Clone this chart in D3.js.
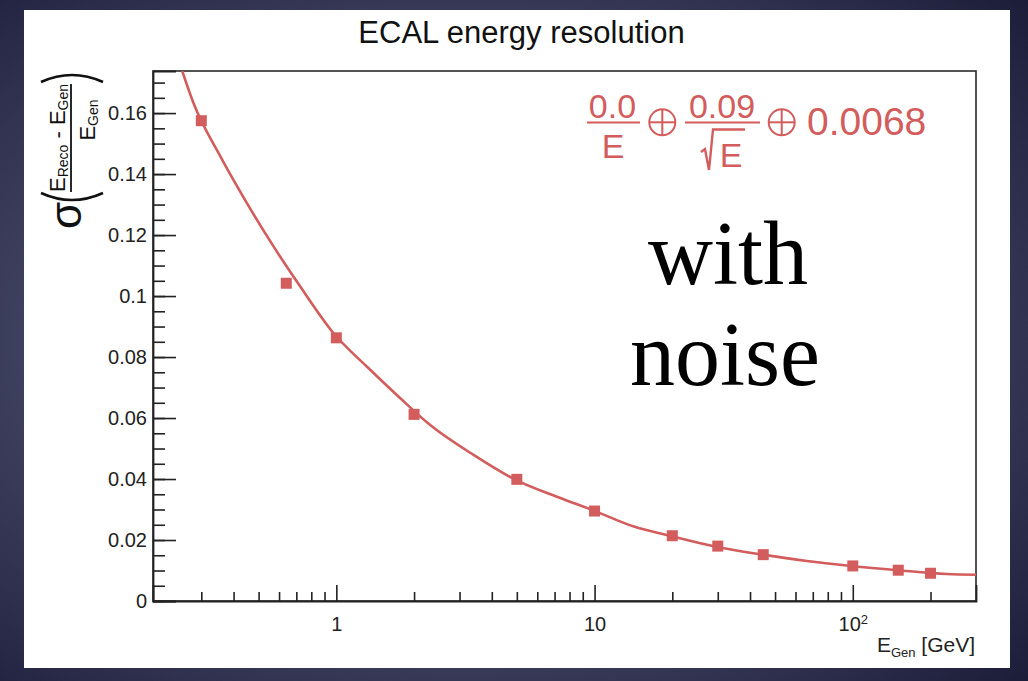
<!DOCTYPE html>
<html><head><meta charset="utf-8">
<script src="https://cdn.jsdelivr.net/npm/d3@7"></script>
<style>html,body{margin:0;padding:0;background:#1e1f3b;overflow:hidden} svg{display:block}</style>
</head><body><svg id="c" width="1028" height="681"></svg>
<script>
// ---- data ----
const energies   = [0.3, 0.64, 1, 2, 5, 10, 20, 30, 45, 100, 150, 200];
const resolution = [0.1575, 0.1042, 0.0863, 0.0612, 0.0399, 0.0295, 0.0214, 0.0180, 0.0152, 0.0115, 0.0101, 0.0091];
const fitEnergies   = [0.253, 0.28, 0.356, 0.451, 0.572, 0.725, 0.976, 1.315, 1.769, 2.31, 3.40, 4.9, 7.15, 9.84, 14.2, 19.6, 29.6, 44.7, 66.4, 98.5, 149.5, 231, 300];
const fitResolution = [0.1738, 0.1632, 0.1457, 0.1304, 0.1162, 0.1031, 0.0878, 0.0768, 0.0665, 0.0577, 0.0479, 0.0399, 0.0342, 0.0298, 0.0244, 0.0214, 0.0178, 0.0152, 0.0131, 0.0115, 0.0101, 0.00885, 0.0086];
const yMajorTicks = [0, 0.02, 0.04, 0.06, 0.08, 0.1, 0.12, 0.14, 0.16];
const yTickLabels = ["0", "0.02", "0.04", "0.06", "0.08", "0.1", "0.12", "0.14", "0.16"];
const yMinorTicks = d3.range(0, 0.1701, 0.005);
const xMajorTicks = [1, 10, 100];
const xTickLabels = ["1", "10", "10"];
const xMinorTicks = [0.3,0.4,0.5,0.6,0.7,0.8,0.9, 2,3,4,5,6,7,8,9, 20,30,40,50,60,70,80,90, 200];
const xDomain = [0.195, 300];
const yDomain = [0, 0.1738];

const titleText = "ECAL energy resolution";
const red = "#d35c5c";

const svg = d3.select("#c");
const W = 1028, H = 681;

// background
const defs = svg.append("defs");
const rg = defs.append("radialGradient").attr("id","bg").attr("cx","45%").attr("cy","50%").attr("r","75%");
rg.append("stop").attr("offset","0%").attr("stop-color","#6b7090");
rg.append("stop").attr("offset","100%").attr("stop-color","#1b1c38");
svg.append("rect").attr("width",W).attr("height",H).attr("fill","url(#bg)");
svg.append("rect").attr("x",24).attr("y",10).attr("width",986).attr("height",658).attr("fill","#ffffff");

const m = {l:153, r:976, t:71, b:601};
const x = d3.scaleLog().domain(xDomain).range([m.l, m.r]);
const y = d3.scaleLinear().domain(yDomain).range([m.b, m.t]);

defs.append("clipPath").attr("id","clip").append("rect")
  .attr("x",m.l).attr("y",m.t).attr("width",m.r-m.l).attr("height",m.b-m.t);

const font = "Liberation Sans, Arial, sans-serif";

// title
svg.append("text").attr("x",521.5).attr("y",43).attr("text-anchor","middle")
  .attr("font-family",font).attr("font-size",31).attr("fill","#111")
  .text(titleText);

// frame
svg.append("rect").attr("x",m.l).attr("y",m.t).attr("width",m.r-m.l).attr("height",m.b-m.t)
  .attr("fill","none").attr("stroke","#2a2a2a").attr("stroke-width",1.6);

// y axis
const yAxisMajor = d3.axisLeft(y).tickValues(yMajorTicks).tickSize(-23).tickPadding(6)
  .tickFormat((d,i)=>yTickLabels[i]);
const yg = svg.append("g").attr("transform",`translate(${m.l},0)`).call(yAxisMajor);
svg.append("g").attr("transform",`translate(${m.l},0)`)
  .call(d3.axisLeft(y).tickValues(yMinorTicks).tickSize(-12).tickFormat(""))
  .call(g=>g.select(".domain").remove());
// x axis
const xAxisMajor = d3.axisBottom(x).tickValues(xMajorTicks).tickSize(-16).tickPadding(16)
  .tickFormat((d,i)=>xTickLabels[i]);
const xg = svg.append("g").attr("transform",`translate(0,${m.b})`).call(xAxisMajor);
svg.append("g").attr("transform",`translate(0,${m.b})`)
  .call(d3.axisBottom(x).tickValues(xMinorTicks).tickSize(-9).tickFormat(""))
  .call(g=>g.select(".domain").remove());
xg.selectAll("text").filter(d=>d===100).append("tspan").attr("dy","-0.55em").attr("font-size",13).text("2");

svg.selectAll(".tick line").attr("stroke","#222").attr("stroke-width",1.6);
svg.selectAll(".domain").attr("stroke","#222").attr("stroke-width",1.8);
svg.selectAll(".tick text").attr("font-family",font).attr("font-size",20).attr("fill","#222");

// x label
const xl = svg.append("text").attr("x",975).attr("y",652).attr("text-anchor","end")
  .attr("font-family",font).attr("font-size",21).attr("fill","#222");
xl.append("tspan").text("E");
xl.append("tspan").attr("font-size",13).attr("dy",5).text("Gen");
xl.append("tspan").attr("dy",-5).text(" [GeV]");

// y label (rotated)
const yl = svg.append("g").attr("transform","translate(70,151) rotate(-90)")
  .attr("font-family",font).attr("fill","#111");
yl.append("text").attr("x",-78).attr("y",11).attr("font-size",44).text("σ");
yl.append("path").attr("d","M -42,-29 Q -56,2 -42,33").attr("fill","none").attr("stroke","#111").attr("stroke-width",2.6);
yl.append("path").attr("d","M 69,-29 Q 83,2 69,33").attr("fill","none").attr("stroke","#111").attr("stroke-width",2.6);
yl.append("line").attr("x1",-41).attr("x2",67).attr("y1",1).attr("y2",1).attr("stroke","#111").attr("stroke-width",1.8);
const num = yl.append("text").attr("x",-41).attr("y",-5).attr("font-size",22);
num.append("tspan").text("E");
num.append("tspan").attr("font-size",14).attr("dy",3).text("Reco");
num.append("tspan").attr("dy",-3).text(" - E");
num.append("tspan").attr("font-size",14).attr("dy",3).text("Gen");
const den = yl.append("text").attr("x",31).attr("y",25).attr("font-size",22).attr("text-anchor","middle");
den.append("tspan").text("E");
den.append("tspan").attr("font-size",14).attr("dy",3).text("Gen");

// fit curve
const line = d3.line().x((d,i)=>x(fitEnergies[i])).y(d=>y(d)).curve(d3.curveMonotoneX);
svg.append("path").datum(fitResolution).attr("clip-path","url(#clip)")
  .attr("d",line).attr("fill","none").attr("stroke",red).attr("stroke-width",2.6);

// points
svg.append("g").selectAll("rect").data(resolution).join("rect")
  .attr("x",(d,i)=>x(energies[i])-5.5).attr("y",d=>y(d)-5.5)
  .attr("width",11).attr("height",11).attr("fill",red);

// formula
const fg = svg.append("g").attr("fill",red).attr("font-family",font);
fg.append("text").attr("x",612.5).attr("y",118).attr("font-size",34).attr("text-anchor","middle").text("0.0");
fg.append("line").attr("x1",587).attr("x2",640).attr("y1",122.5).attr("y2",122.5).attr("stroke",red).attr("stroke-width",2.2);
fg.append("text").attr("x",613).attr("y",158).attr("font-size",34).attr("text-anchor","middle").text("E");
[662.3, 781.7].forEach(cx=>{
  fg.append("circle").attr("cx",cx).attr("cy",122.3).attr("r",13).attr("fill","none").attr("stroke",red).attr("stroke-width",2);
  fg.append("line").attr("x1",cx-13).attr("x2",cx+13).attr("y1",122.3).attr("y2",122.3).attr("stroke",red).attr("stroke-width",2);
  fg.append("line").attr("x1",cx).attr("x2",cx).attr("y1",109.3).attr("y2",135.3).attr("stroke",red).attr("stroke-width",2);
});
fg.append("text").attr("x",722).attr("y",118).attr("font-size",34).attr("text-anchor","middle").text("0.09");
fg.append("line").attr("x1",685).attr("x2",760).attr("y1",122.5).attr("y2",122.5).attr("stroke",red).attr("stroke-width",2.2);
fg.append("path").attr("d","M 701,152 L 705,149 L 709,170 L 713,129.5 L 745,129.5").attr("fill","none").attr("stroke",red).attr("stroke-width",2.4);
fg.append("text").attr("x",731).attr("y",167).attr("font-size",34).attr("text-anchor","middle").text("E");
fg.append("text").attr("x",807).attr("y",135).attr("font-size",39).text("0.0068");

// annotation
const ann = svg.append("g").attr("font-family","Liberation Serif, Times New Roman, serif").attr("font-size",90).attr("fill","#000").attr("text-anchor","middle");
ann.append("text").attr("x",728).attr("y",284).text("with");
ann.append("text").attr("x",725).attr("y",385).text("noise");
</script></body></html>
